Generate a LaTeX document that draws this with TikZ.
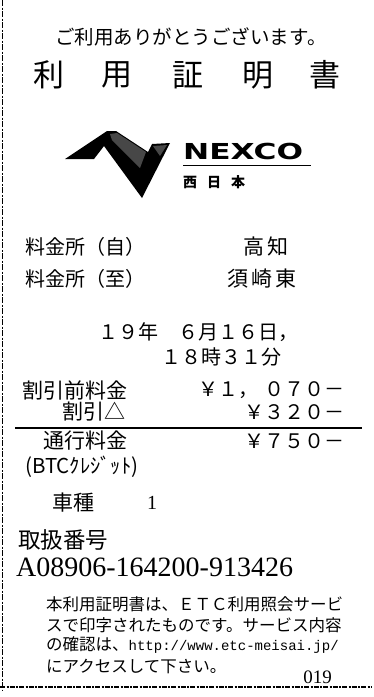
\documentclass[tikz,border=0pt]{standalone}
\usepackage{fontspec}
\newfontfamily\jp{Noto Sans CJK JP}
\newfontfamily\ser{Liberation Serif}
\newfontfamily\mono{Liberation Mono}
\newfontfamily\dsans{DejaVu Sans}
\newcommand{\fs}[1]{\fontsize{#1}{#1}\selectfont}
\begin{document}
\begin{tikzpicture}[x=1pt,y=-1pt,
  t/.style={inner sep=0pt, font=\jp},
  tw/.style={t, anchor=west},
  te/.style={t, anchor=east}]
\useasboundingbox (0,0) rectangle (374,697);
\fill[white] (0,0) rectangle (374,697);
% borders
\draw[line width=1.2pt, dash pattern=on 6pt off 1.5pt on 2pt off 1.5pt] (2.5,0) -- (2.5,690);
\draw[line width=1.2pt, dash pattern=on 5pt off 1.5pt on 2pt off 1pt] (0,687) -- (372,687);
% header
\node[t, font=\jp\fs{19.5}] (thanks) at (191,37) {ご利用ありがとうございます。};
\foreach \c/\x [count=\i] in {利/49,用/117,証/188,明/258,書/325}
  \node[t, font=\jp\fs{31}] (title\i) at (\x,75) {\c};
% logo
\fill[black] (65,159) -- (107,131) -- (116,131) -- (148,152) -- (152,144) -- (170,143) -- (142,198) -- (104,146) -- (94,159) -- cycle;
\fill[black!72] (110,134) -- (117,133) -- (146,152) -- (140,168) -- (112,140) -- cycle;
\fill[black!72] (153,146) -- (167,145) -- (160,156) -- cycle;
\node[inner sep=0pt, anchor=west] (nexco) at (183,151) {\scalebox{1.42}[1]{\dsans\bfseries\fs{22}NEXCO}};
\draw[line width=1pt] (183,165.5) -- (311,165.5);
\node[tw, font=\jp\bfseries\fs{14}] (nishi) at (183,182) {西\hspace{10pt}日\hspace{10pt}本};
% stations
\node[tw, font=\jp\fs{20}] (from) at (25,247) {料金所（自）};
\node[t, font=\jp\fs{21}] (fromv) at (266,247) {高\hspace{4pt}知};
\node[tw, font=\jp\fs{20}] (to) at (25,279) {料金所（至）};
\node[t, font=\jp\fs{21}] (tov) at (262,279) {須\hspace{3pt}崎\hspace{3pt}東};
% date
\node[tw, font=\jp\fs{20}] (date) at (98,332) {１９年　６月１６日，};
\node[tw, font=\jp\fs{20}] (time) at (161,357) {１８時３１分};
% fees
\node[tw, font=\jp\fs{21}] (pre) at (22,390) {割引前料金};
\node[te, font=\jp\fs{20}] (prev) at (345,390) {￥１，\hspace{6pt}０７０－};
\node[tw, font=\jp\fs{21}] (disc) at (62,412) {割引△};
\node[te, font=\jp\fs{20}] (discv) at (345,412) {￥３２０－};
\draw[line width=1.2pt] (15,428) -- (362,428);
\node[tw, font=\jp\fs{21}] (toll) at (43,441) {通行料金};
\node[te, font=\jp\fs{20}] (tollv) at (345,441) {￥７５０－};
\node[tw, font=\jp\fs{20.5}] (pay) at (25,467) {(BTCｸﾚｼﾞｯﾄ)};
\node[tw, font=\jp\fs{21}] (car) at (52,503) {車種};
\node[t, font=\ser\fs{20}] (carv) at (152,503) {1};
% number
\node[tw, font=\jp\fs{22.5}] (num) at (18,540) {取扱番号};
\node[tw, font=\ser\fs{28}] (id) at (16,567) {A08906-164200-913426};
% note
\node[tw, font=\jp\fs{16.5}] (n1) at (46,604) {本利用証明書は、ＥＴＣ利用照会サービ};
\node[tw, font=\jp\fs{16.5}] (n2) at (46,625) {スで印字されたものです。サービス内容};
\node[tw, font=\jp\fs{16.5}] (n3) at (46,645) {の確認は、{\mono\fs{14}http://www.etc-meisai.jp/}};
\node[tw, font=\jp\fs{16.5}] (n4) at (46,666) {にアクセスして下さい。};
\node[te, font=\ser\fs{19}] (code) at (332,677) {019};
\end{tikzpicture}
\end{document}
